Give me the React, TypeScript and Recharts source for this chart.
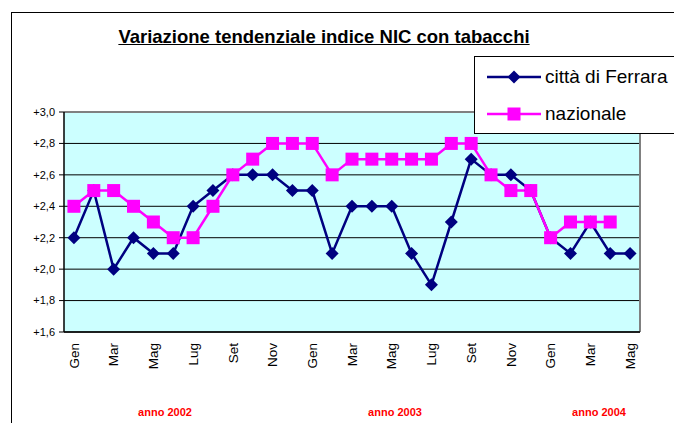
import React from 'react';
import { LineChart, Line, XAxis, YAxis, CartesianGrid, ReferenceLine } from 'recharts';

// Gen 2002 .. Mag 2004
const months = [
  'Gen', 'Feb', 'Mar', 'Apr', 'Mag', 'Giu', 'Lug', 'Ago', 'Set', 'Ott', 'Nov', 'Dic',
  'Gen', 'Feb', 'Mar', 'Apr', 'Mag', 'Giu', 'Lug', 'Ago', 'Set', 'Ott', 'Nov', 'Dic',
  'Gen', 'Feb', 'Mar', 'Apr', 'Mag',
];

const ferrara = [
  2.2, 2.5, 2.0, 2.2, 2.1, 2.1, 2.4, 2.5, 2.6, 2.6, 2.6, 2.5,
  2.5, 2.1, 2.4, 2.4, 2.4, 2.1, 1.9, 2.3, 2.7, 2.6, 2.6, 2.5,
  2.2, 2.1, 2.3, 2.1, 2.1,
];

const nazionale = [
  2.4, 2.5, 2.5, 2.4, 2.3, 2.2, 2.2, 2.4, 2.6, 2.7, 2.8, 2.8,
  2.8, 2.6, 2.7, 2.7, 2.7, 2.7, 2.7, 2.8, 2.8, 2.6, 2.5, 2.5,
  2.2, 2.3, 2.3, 2.3, null,
];

const yTicks = [1.6, 1.8, 2.0, 2.2, 2.4, 2.6, 2.8, 3.0];
const yearLabels = ['anno 2002', 'anno 2003', 'anno 2004'];
const yearCenters = [165, 395, 599];

const NAVY = '#000080';
const PINK = '#FF00FF';
const FONT = 'Arial, "Liberation Sans", sans-serif';

const data = months.map((m, i) => ({ i, m, ferrara: ferrara[i], nazionale: nazionale[i] }));
const boundaries = [...months.map((_, i) => i - 0.5), months.length - 0.5];
const labelTicks = months.map((_, i) => i).filter((i) => i % 2 === 0);

const Diamond = (props: any) => {
  const { cx, cy } = props;
  if (cx == null || cy == null) return <g />;
  const r = 6.5;
  return (
    <polygon
      points={`${cx},${cy - r} ${cx + r},${cy} ${cx},${cy + r} ${cx - r},${cy}`}
      fill={NAVY}
    />
  );
};

const Square = (props: any) => {
  const { cx, cy } = props;
  if (cx == null || cy == null) return <g />;
  return <rect x={cx - 6.5} y={cy - 6.5} width={13} height={13} fill={PINK} />;
};

const MonthTick = (props: any) => {
  const { x, y, payload } = props;
  const ty = y + 5;
  return (
    <text
      x={x}
      y={ty}
      dy="0.35em"
      transform={`rotate(-90, ${x}, ${ty})`}
      textAnchor="end"
      fontSize={13.5}
      fontFamily={FONT}
      fill="#000"
    >
      {months[payload.value]}
    </text>
  );
};

const fmt = (v: number) => '+' + v.toFixed(1).replace('.', ',');

function LegendBox() {
  const rows = [
    { name: 'città di Ferrara', color: NAVY, shape: 'diamond' },
    { name: 'nazionale', color: PINK, shape: 'square' },
  ];
  return (
    <div
      style={{
        position: 'absolute',
        left: 474,
        top: 56,
        width: 200,
        height: 78,
        boxSizing: 'border-box',
        border: '1px solid #000',
        borderRight: 'none',
        background: '#fff',
        paddingTop: 1,
      }}
    >
      {rows.map((r) => (
        <div key={r.name} style={{ display: 'flex', alignItems: 'center', height: 37, paddingLeft: 12 }}>
          <svg width={54} height={16} style={{ display: 'block' }}>
            <line x1={0} y1={8} x2={54} y2={8} stroke={r.color} strokeWidth={2.5} />
            {r.shape === 'diamond' ? (
              <polygon points="27,1.5 33.5,8 27,14.5 20.5,8" fill={r.color} />
            ) : (
              <rect x={20.5} y={1.5} width={13} height={13} fill={r.color} />
            )}
          </svg>
          <span style={{ fontSize: 19, marginLeft: 4, whiteSpace: 'nowrap', lineHeight: 1 }}>{r.name}</span>
        </div>
      ))}
    </div>
  );
}

export default function App() {
  return (
    <div
      style={{
        position: 'absolute',
        left: 0,
        top: 0,
        width: 674,
        height: 423,
        overflow: 'hidden',
        background: '#fff',
        fontFamily: FONT,
      }}
    >
      <div
        style={{
          position: 'absolute',
          left: 11,
          top: 12,
          width: 663,
          height: 411,
          boxSizing: 'border-box',
          borderTop: '1px solid #000',
          borderLeft: '1px solid #000',
        }}
      />
      <div
        style={{
          position: 'absolute',
          left: 0,
          top: 28,
          width: 648,
          textAlign: 'center',
          fontSize: 18.5,
          lineHeight: 1,
          fontWeight: 'bold',
          textDecoration: 'underline',
        }}
      >
        Variazione tendenziale indice NIC con tabacchi
      </div>

      <div style={{ position: 'absolute', left: 0, top: 0 }}>
        <LineChart width={674} height={423} data={data} margin={{ top: 112, right: 34, bottom: 45, left: 0 }}>
          <CartesianGrid vertical={false} stroke="#000" fill="#CCFFFF" fillOpacity={1} xAxisId="bnd" />
          <XAxis
            xAxisId="bnd"
            type="number"
            dataKey="i"
            domain={[-0.5, months.length - 0.5]}
            ticks={boundaries}
            interval={0}
            tick={false}
            tickSize={5}
            height={6}
            axisLine={{ stroke: '#000', strokeWidth: 1.5 }}
            tickLine={{ stroke: '#000' }}
          />
          <XAxis
            xAxisId="lbl"
            type="number"
            dataKey="i"
            domain={[-0.5, months.length - 0.5]}
            ticks={labelTicks}
            interval={0}
            tick={<MonthTick />}
            tickLine={false}
            axisLine={false}
            tickSize={0}
            tickMargin={0}
            height={40}
          />
          <YAxis
            type="number"
            domain={[1.6, 3.0]}
            ticks={yTicks}
            interval={0}
            allowDataOverflow
            width={64}
            tickSize={5}
            tickMargin={4}
            tickFormatter={fmt}
            tick={{ fontSize: 11, fill: '#000', fontFamily: FONT }}
            axisLine={{ stroke: '#000', strokeWidth: 1.5 }}
            tickLine={{ stroke: '#000' }}
          />
          <ReferenceLine xAxisId="bnd" y={3.0} stroke="#808080" strokeWidth={2} />
          <ReferenceLine xAxisId="bnd" x={months.length - 0.5} stroke="#808080" strokeWidth={2} />

          <Line xAxisId="bnd" dataKey="ferrara" stroke={NAVY} strokeWidth={2.5} dot={false} activeDot={false} isAnimationActive={false} />
          <Line xAxisId="bnd" dataKey="nazionale" stroke={PINK} strokeWidth={2.5} dot={false} activeDot={false} isAnimationActive={false} />
          <Line xAxisId="bnd" dataKey="ferrara" stroke="none" dot={<Diamond />} activeDot={false} isAnimationActive={false} />
          <Line xAxisId="bnd" dataKey="nazionale" stroke="none" dot={<Square />} activeDot={false} isAnimationActive={false} />
        </LineChart>
      </div>

      <LegendBox />

      {yearLabels.map((t, k) => (
        <div
          key={t}
          style={{
            position: 'absolute',
            left: yearCenters[k] - 50,
            top: 407,
            width: 100,
            textAlign: 'center',
            fontSize: 11,
            lineHeight: 1,
            fontWeight: 'bold',
            color: '#FF0000',
          }}
        >
          {t}
        </div>
      ))}
    </div>
  );
}
